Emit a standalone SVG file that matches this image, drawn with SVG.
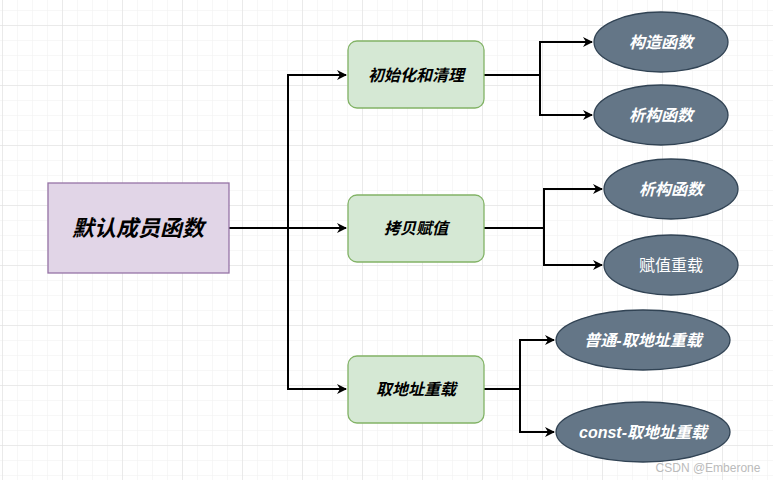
<svg xmlns="http://www.w3.org/2000/svg" width="773" height="480" viewBox="0 0 773 480">
<defs>
<pattern id="minor" x="2" y="10" width="15" height="15" patternUnits="userSpaceOnUse"><path d="M0 0H15M0 0V15" fill="none" stroke="#f0f0f0" stroke-width="1"/></pattern>
<pattern id="major" x="2" y="25" width="60" height="60" patternUnits="userSpaceOnUse"><path d="M0 0H60M0 0V60" fill="none" stroke="#dedede" stroke-width="1"/></pattern>
<marker id="arr" viewBox="0 0 10 10" refX="9" refY="5" markerWidth="10" markerHeight="10" markerUnits="userSpaceOnUse" orient="auto"><path d="M0 0L10 5L0 10L3 5Z" fill="#000"/></marker>
</defs>
<style>
text{font-family:"Liberation Sans","Noto Sans CJK SC",sans-serif;text-anchor:middle;dominant-baseline:central}
.box{fill:#d5e8d4;stroke:#82b366;stroke-width:1.3}
.ell{fill:#647687;stroke:#314354;stroke-width:1.3}
.bt{font-size:16px;font-weight:bold;font-style:italic;fill:#000}
.et{font-size:16px;font-weight:bold;font-style:italic;fill:#fff}
.c{fill:none;stroke:#000;stroke-width:2;marker-end:url(#arr)}
</style>
<rect width="773" height="480" fill="#fff"/>
<rect width="773" height="480" fill="url(#minor)"/>
<rect width="773" height="480" fill="url(#major)"/>
<g id="connectors">
<path class="c" d="M229 228H288V75H346"/>
<path class="c" d="M229 228H346"/>
<path class="c" d="M288 228V389H346"/>
<path class="c" d="M484 75H540V42H592"/>
<path class="c" d="M540 75V115H592"/>
<path class="c" d="M484 228H544V189H602"/>
<path class="c" d="M544 228V265H602"/>
<path class="c" d="M484 389H520V340H554"/>
<path class="c" d="M520 389V432H554"/>
</g>
<g id="main"><rect x="48" y="183" width="181" height="90" fill="#e1d5e7" stroke="#9673a6" stroke-width="1.3"/><text x="138" y="228" style="font-size:22px;font-weight:bold;font-style:italic">默认成员函数</text></g>
<g id="init"><rect class="box" x="348" y="41" width="136" height="67" rx="9"/><text class="bt" x="416" y="75">初始化和清理</text></g>
<g id="copy"><rect class="box" x="348" y="195" width="136" height="67" rx="9"/><text class="bt" x="416" y="228">拷贝赋值</text></g>
<g id="addr"><rect class="box" x="348" y="356" width="136" height="67" rx="9"/><text class="bt" x="416" y="389">取地址重载</text></g>
<g id="e1"><ellipse class="ell" cx="661" cy="42" rx="67" ry="30"/><text class="et" x="661" y="42">构造函数</text></g>
<g id="e2"><ellipse class="ell" cx="661" cy="115" rx="67" ry="30"/><text class="et" x="661" y="115">析构函数</text></g>
<g id="e3"><ellipse class="ell" cx="671" cy="189" rx="67" ry="30"/><text class="et" x="671" y="189">析构函数</text></g>
<g id="e4"><ellipse class="ell" cx="671" cy="265" rx="67" ry="30"/><text x="671" y="265" style="font-size:16px;fill:#fff">赋值重载</text></g>
<g id="e5"><ellipse class="ell" cx="643" cy="340" rx="87" ry="30"/><text class="et" x="643" y="340">普通-取地址重载</text></g>
<g id="e6"><ellipse class="ell" cx="643" cy="432" rx="87" ry="30"/><text class="et" x="643" y="432">const-取地址重载</text></g>
<text x="708" y="468" style="font-size:12px;fill:#bbb">CSDN @Emberone</text>
</svg>
